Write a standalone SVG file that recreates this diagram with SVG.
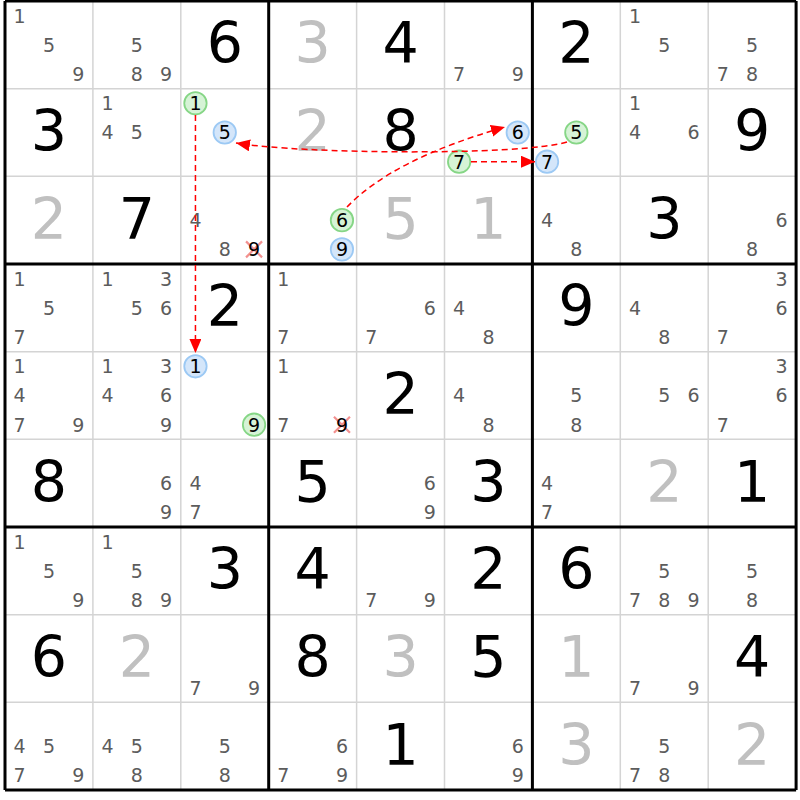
<svg xmlns="http://www.w3.org/2000/svg" width="800" height="800" viewBox="0 0 800 800">
<style>
text{font-family:"DejaVu Sans","Liberation Sans",sans-serif;text-anchor:middle}
.G{font-size:57px;fill:#000}
.g{font-size:57px;fill:#c0c0c0}
.k{font-size:19px;fill:#5c5c5c}
.m{font-size:19px;fill:#000}
.thin{stroke:#d4d4d4;stroke-width:1.5;fill:none}
.thick{stroke:#000;stroke-width:3;fill:none}
.cg{fill:#d6f3d6;stroke:#86d686;stroke-width:1.8}
.cb{fill:#d4e6fa;stroke:#9cc9f4;stroke-width:1.8}
.x{stroke:#f29090;stroke-width:2.2;fill:none}
.arr{stroke:#ff0000;stroke-width:1.5;stroke-dasharray:6 4;fill:none;marker-end:url(#ah)}
</style>
<defs>
<marker id="ah" markerUnits="userSpaceOnUse" markerWidth="14" markerHeight="12" refX="14" refY="6" orient="auto">
<path d="M0,0 L14,6 L0,12 z" fill="#ff0000"/>
</marker>
</defs>
<rect x="0" y="0" width="800" height="800" fill="#fff"/>
<g id="grid">
<path class="thin" d="M92.9,1V790M180.8,1V790M356.6,1V790M444.5,1V790M620.3,1V790M708.2,1V790M5,88.67H796.1M5,176.33H796.1M5,351.67H796.1M5,439.33H796.1M5,614.67H796.1M5,702.33H796.1"/>
<path class="thick" d="M5,1V790M268.7,1V790M532.4,1V790M796.1,1V790M5,1H796.1M5,264H796.1M5,527H796.1M5,790H796.1"/>
</g>
<g id="cells">
<g id="r1c1" transform="translate(48.95,44.83)"><text class="k" x="-29.3" y="-22.3">1</text><text class="k" x="0" y="6.9">5</text><text class="k" x="29.3" y="36.1">9</text></g>
<g id="r1c2" transform="translate(136.85,44.83)"><text class="k" x="0" y="6.9">5</text><text class="k" x="0" y="36.1">8</text><text class="k" x="29.3" y="36.1">9</text></g>
<g id="r1c3" transform="translate(224.75,44.83)"><text class="G" y="18.5">6</text></g>
<g id="r1c4" transform="translate(312.65,44.83)"><text class="g" y="18.5">3</text></g>
<g id="r1c5" transform="translate(400.55,44.83)"><text class="G" y="18.5">4</text></g>
<g id="r1c6" transform="translate(488.45,44.83)"><text class="k" x="-29.3" y="36.1">7</text><text class="k" x="29.3" y="36.1">9</text></g>
<g id="r1c7" transform="translate(576.35,44.83)"><text class="G" y="18.5">2</text></g>
<g id="r1c8" transform="translate(664.25,44.83)"><text class="k" x="-29.3" y="-22.3">1</text><text class="k" x="0" y="6.9">5</text></g>
<g id="r1c9" transform="translate(752.15,44.83)"><text class="k" x="0" y="6.9">5</text><text class="k" x="-29.3" y="36.1">7</text><text class="k" x="0" y="36.1">8</text></g>

<g id="r2c1" transform="translate(48.95,132.5)"><text class="G" y="18.5">3</text></g>
<g id="r2c2" transform="translate(136.85,132.5)"><text class="k" x="-29.3" y="-22.3">1</text><text class="k" x="-29.3" y="6.9">4</text><text class="k" x="0" y="6.9">5</text></g>
<g id="r2c3" transform="translate(224.75,132.5)"><circle class="cg" cx="-29.3" cy="-29.2" r="11.2"/><text class="m" x="-29.3" y="-22.3">1</text><circle class="cb" cx="0" cy="0" r="11.2"/><text class="m" x="0" y="6.9">5</text></g>
<g id="r2c4" transform="translate(312.65,132.5)"><text class="g" y="18.5">2</text></g>
<g id="r2c5" transform="translate(400.55,132.5)"><text class="G" y="18.5">8</text></g>
<g id="r2c6" transform="translate(488.45,132.5)"><circle class="cb" cx="29.3" cy="0" r="11.2"/><text class="m" x="29.3" y="6.9">6</text><circle class="cg" cx="-29.3" cy="29.2" r="11.2"/><text class="m" x="-29.3" y="36.1">7</text></g>
<g id="r2c7" transform="translate(576.35,132.5)"><circle class="cg" cx="0" cy="0" r="11.2"/><text class="m" x="0" y="6.9">5</text><circle class="cb" cx="-29.3" cy="29.2" r="11.2"/><text class="m" x="-29.3" y="36.1">7</text></g>
<g id="r2c8" transform="translate(664.25,132.5)"><text class="k" x="-29.3" y="-22.3">1</text><text class="k" x="-29.3" y="6.9">4</text><text class="k" x="29.3" y="6.9">6</text></g>
<g id="r2c9" transform="translate(752.15,132.5)"><text class="G" y="18.5">9</text></g>

<g id="r3c1" transform="translate(48.95,220.17)"><text class="g" y="18.5">2</text></g>
<g id="r3c2" transform="translate(136.85,220.17)"><text class="G" y="18.5">7</text></g>
<g id="r3c3" transform="translate(224.75,220.17)"><text class="k" x="-29.3" y="6.9">4</text><text class="k" x="0" y="36.1">8</text><path class="x" d="M21.3,21.2L37.3,37.2M37.3,21.2L21.3,37.2"/><text class="m" x="29.3" y="36.1">9</text></g>
<g id="r3c4" transform="translate(312.65,220.17)"><circle class="cg" cx="29.3" cy="0" r="11.2"/><text class="m" x="29.3" y="6.9">6</text><circle class="cb" cx="29.3" cy="29.2" r="11.2"/><text class="m" x="29.3" y="36.1">9</text></g>
<g id="r3c5" transform="translate(400.55,220.17)"><text class="g" y="18.5">5</text></g>
<g id="r3c6" transform="translate(488.45,220.17)"><text class="g" y="18.5">1</text></g>
<g id="r3c7" transform="translate(576.35,220.17)"><text class="k" x="-29.3" y="6.9">4</text><text class="k" x="0" y="36.1">8</text></g>
<g id="r3c8" transform="translate(664.25,220.17)"><text class="G" y="18.5">3</text></g>
<g id="r3c9" transform="translate(752.15,220.17)"><text class="k" x="29.3" y="6.9">6</text><text class="k" x="0" y="36.1">8</text></g>

<g id="r4c1" transform="translate(48.95,307.83)"><text class="k" x="-29.3" y="-22.3">1</text><text class="k" x="0" y="6.9">5</text><text class="k" x="-29.3" y="36.1">7</text></g>
<g id="r4c2" transform="translate(136.85,307.83)"><text class="k" x="-29.3" y="-22.3">1</text><text class="k" x="29.3" y="-22.3">3</text><text class="k" x="0" y="6.9">5</text><text class="k" x="29.3" y="6.9">6</text></g>
<g id="r4c3" transform="translate(224.75,307.83)"><text class="G" y="18.5">2</text></g>
<g id="r4c4" transform="translate(312.65,307.83)"><text class="k" x="-29.3" y="-22.3">1</text><text class="k" x="-29.3" y="36.1">7</text></g>
<g id="r4c5" transform="translate(400.55,307.83)"><text class="k" x="29.3" y="6.9">6</text><text class="k" x="-29.3" y="36.1">7</text></g>
<g id="r4c6" transform="translate(488.45,307.83)"><text class="k" x="-29.3" y="6.9">4</text><text class="k" x="0" y="36.1">8</text></g>
<g id="r4c7" transform="translate(576.35,307.83)"><text class="G" y="18.5">9</text></g>
<g id="r4c8" transform="translate(664.25,307.83)"><text class="k" x="-29.3" y="6.9">4</text><text class="k" x="0" y="36.1">8</text></g>
<g id="r4c9" transform="translate(752.15,307.83)"><text class="k" x="29.3" y="-22.3">3</text><text class="k" x="29.3" y="6.9">6</text><text class="k" x="-29.3" y="36.1">7</text></g>

<g id="r5c1" transform="translate(48.95,395.5)"><text class="k" x="-29.3" y="-22.3">1</text><text class="k" x="-29.3" y="6.9">4</text><text class="k" x="-29.3" y="36.1">7</text><text class="k" x="29.3" y="36.1">9</text></g>
<g id="r5c2" transform="translate(136.85,395.5)"><text class="k" x="-29.3" y="-22.3">1</text><text class="k" x="29.3" y="-22.3">3</text><text class="k" x="-29.3" y="6.9">4</text><text class="k" x="29.3" y="6.9">6</text><text class="k" x="29.3" y="36.1">9</text></g>
<g id="r5c3" transform="translate(224.75,395.5)"><circle class="cb" cx="-29.3" cy="-29.2" r="11.2"/><text class="m" x="-29.3" y="-22.3">1</text><circle class="cg" cx="29.3" cy="29.2" r="11.2"/><text class="m" x="29.3" y="36.1">9</text></g>
<g id="r5c4" transform="translate(312.65,395.5)"><text class="k" x="-29.3" y="-22.3">1</text><text class="k" x="-29.3" y="36.1">7</text><path class="x" d="M21.3,21.2L37.3,37.2M37.3,21.2L21.3,37.2"/><text class="m" x="29.3" y="36.1">9</text></g>
<g id="r5c5" transform="translate(400.55,395.5)"><text class="G" y="18.5">2</text></g>
<g id="r5c6" transform="translate(488.45,395.5)"><text class="k" x="-29.3" y="6.9">4</text><text class="k" x="0" y="36.1">8</text></g>
<g id="r5c7" transform="translate(576.35,395.5)"><text class="k" x="0" y="6.9">5</text><text class="k" x="0" y="36.1">8</text></g>
<g id="r5c8" transform="translate(664.25,395.5)"><text class="k" x="0" y="6.9">5</text><text class="k" x="29.3" y="6.9">6</text></g>
<g id="r5c9" transform="translate(752.15,395.5)"><text class="k" x="29.3" y="-22.3">3</text><text class="k" x="29.3" y="6.9">6</text><text class="k" x="-29.3" y="36.1">7</text></g>

<g id="r6c1" transform="translate(48.95,483.17)"><text class="G" y="18.5">8</text></g>
<g id="r6c2" transform="translate(136.85,483.17)"><text class="k" x="29.3" y="6.9">6</text><text class="k" x="29.3" y="36.1">9</text></g>
<g id="r6c3" transform="translate(224.75,483.17)"><text class="k" x="-29.3" y="6.9">4</text><text class="k" x="-29.3" y="36.1">7</text></g>
<g id="r6c4" transform="translate(312.65,483.17)"><text class="G" y="18.5">5</text></g>
<g id="r6c5" transform="translate(400.55,483.17)"><text class="k" x="29.3" y="6.9">6</text><text class="k" x="29.3" y="36.1">9</text></g>
<g id="r6c6" transform="translate(488.45,483.17)"><text class="G" y="18.5">3</text></g>
<g id="r6c7" transform="translate(576.35,483.17)"><text class="k" x="-29.3" y="6.9">4</text><text class="k" x="-29.3" y="36.1">7</text></g>
<g id="r6c8" transform="translate(664.25,483.17)"><text class="g" y="18.5">2</text></g>
<g id="r6c9" transform="translate(752.15,483.17)"><text class="G" y="18.5">1</text></g>

<g id="r7c1" transform="translate(48.95,570.83)"><text class="k" x="-29.3" y="-22.3">1</text><text class="k" x="0" y="6.9">5</text><text class="k" x="29.3" y="36.1">9</text></g>
<g id="r7c2" transform="translate(136.85,570.83)"><text class="k" x="-29.3" y="-22.3">1</text><text class="k" x="0" y="6.9">5</text><text class="k" x="0" y="36.1">8</text><text class="k" x="29.3" y="36.1">9</text></g>
<g id="r7c3" transform="translate(224.75,570.83)"><text class="G" y="18.5">3</text></g>
<g id="r7c4" transform="translate(312.65,570.83)"><text class="G" y="18.5">4</text></g>
<g id="r7c5" transform="translate(400.55,570.83)"><text class="k" x="-29.3" y="36.1">7</text><text class="k" x="29.3" y="36.1">9</text></g>
<g id="r7c6" transform="translate(488.45,570.83)"><text class="G" y="18.5">2</text></g>
<g id="r7c7" transform="translate(576.35,570.83)"><text class="G" y="18.5">6</text></g>
<g id="r7c8" transform="translate(664.25,570.83)"><text class="k" x="0" y="6.9">5</text><text class="k" x="-29.3" y="36.1">7</text><text class="k" x="0" y="36.1">8</text><text class="k" x="29.3" y="36.1">9</text></g>
<g id="r7c9" transform="translate(752.15,570.83)"><text class="k" x="0" y="6.9">5</text><text class="k" x="0" y="36.1">8</text></g>

<g id="r8c1" transform="translate(48.95,658.5)"><text class="G" y="18.5">6</text></g>
<g id="r8c2" transform="translate(136.85,658.5)"><text class="g" y="18.5">2</text></g>
<g id="r8c3" transform="translate(224.75,658.5)"><text class="k" x="-29.3" y="36.1">7</text><text class="k" x="29.3" y="36.1">9</text></g>
<g id="r8c4" transform="translate(312.65,658.5)"><text class="G" y="18.5">8</text></g>
<g id="r8c5" transform="translate(400.55,658.5)"><text class="g" y="18.5">3</text></g>
<g id="r8c6" transform="translate(488.45,658.5)"><text class="G" y="18.5">5</text></g>
<g id="r8c7" transform="translate(576.35,658.5)"><text class="g" y="18.5">1</text></g>
<g id="r8c8" transform="translate(664.25,658.5)"><text class="k" x="-29.3" y="36.1">7</text><text class="k" x="29.3" y="36.1">9</text></g>
<g id="r8c9" transform="translate(752.15,658.5)"><text class="G" y="18.5">4</text></g>

<g id="r9c1" transform="translate(48.95,746.17)"><text class="k" x="-29.3" y="6.9">4</text><text class="k" x="0" y="6.9">5</text><text class="k" x="-29.3" y="36.1">7</text><text class="k" x="29.3" y="36.1">9</text></g>
<g id="r9c2" transform="translate(136.85,746.17)"><text class="k" x="-29.3" y="6.9">4</text><text class="k" x="0" y="6.9">5</text><text class="k" x="0" y="36.1">8</text></g>
<g id="r9c3" transform="translate(224.75,746.17)"><text class="k" x="0" y="6.9">5</text><text class="k" x="0" y="36.1">8</text></g>
<g id="r9c4" transform="translate(312.65,746.17)"><text class="k" x="29.3" y="6.9">6</text><text class="k" x="-29.3" y="36.1">7</text><text class="k" x="29.3" y="36.1">9</text></g>
<g id="r9c5" transform="translate(400.55,746.17)"><text class="G" y="18.5">1</text></g>
<g id="r9c6" transform="translate(488.45,746.17)"><text class="k" x="29.3" y="6.9">6</text><text class="k" x="29.3" y="36.1">9</text></g>
<g id="r9c7" transform="translate(576.35,746.17)"><text class="g" y="18.5">3</text></g>
<g id="r9c8" transform="translate(664.25,746.17)"><text class="k" x="0" y="6.9">5</text><text class="k" x="-29.3" y="36.1">7</text><text class="k" x="0" y="36.1">8</text></g>
<g id="r9c9" transform="translate(752.15,746.17)"><text class="g" y="18.5">2</text></g>
</g>
<g id="connectors">
<path class="arr" d="M195.45,115 L195.45,353"/>
<path class="arr" d="M567,142 C520,156 300,154 236,143"/>
<path class="arr" d="M471,161.7 L535,161.7"/>
<path class="arr" d="M347,207 Q393,159 505,127"/>
</g>
</svg>
